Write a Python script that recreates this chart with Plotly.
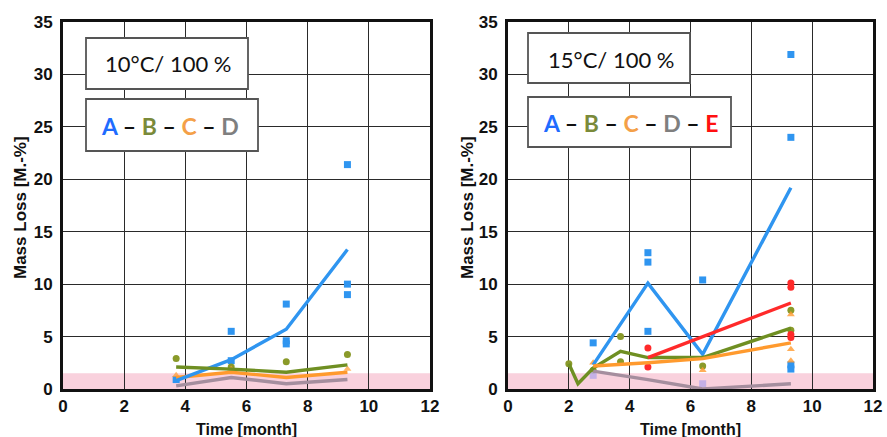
import plotly.graph_objects as go

# ---------------- data: left panel (10°C / 100 %) ----------------
L_x = [3.7, 5.5, 7.3, 9.3]
L_A_line = [0.8, 2.8, 5.7, 13.3]
L_B_line = [2.1, 1.9, 1.6, 2.3]
L_C_line = [1.1, 1.6, 1.1, 1.6]
L_D_line = [0.3, 1.1, 0.5, 0.9]

L_A_pts_x = [3.7, 5.5, 5.5, 7.3, 7.3, 7.3, 9.3, 9.3, 9.3]
L_A_pts_y = [0.9, 5.5, 2.7, 8.1, 4.6, 4.3, 21.4, 10.0, 9.0]
L_B_pts_x = [3.7, 5.5, 7.3, 9.3]
L_B_pts_y = [2.9, 2.1, 2.6, 3.3]
L_C_pts_x = [3.7, 5.5, 9.3]
L_C_pts_y = [1.3, 1.9, 1.9]

# ---------------- data: right panel (15°C / 100 %) ----------------
R_A_x = [2.8, 4.6, 6.4, 9.3]
R_A_line = [2.3, 10.1, 3.3, 19.2]
R_B_x = [2.0, 2.3, 2.8, 3.7, 4.6, 6.4, 9.3]
R_B_line = [2.4, 0.5, 2.0, 3.6, 3.0, 3.0, 5.8]
R_C_x = [2.8, 4.6, 6.4, 9.3]
R_C_line = [2.2, 2.5, 2.9, 4.4]
R_D_x = [2.8, 4.6, 6.4, 9.3]
R_D_line = [1.7, 0.9, 0.0, 0.5]
R_E_x = [4.6, 9.3]
R_E_line = [3.0, 8.2]

R_A_pts_x = [2.8, 4.6, 4.6, 4.6, 6.4, 9.3, 9.3, 9.3, 9.3]
R_A_pts_y = [4.4, 13.0, 12.1, 5.5, 10.4, 31.9, 24.0, 2.3, 1.9]
R_B_pts_x = [2.0, 2.8, 3.7, 3.7, 6.4, 9.3, 9.3]
R_B_pts_y = [2.4, 1.8, 5.0, 2.6, 2.2, 7.5, 5.6]
R_C_pts_x = [2.8, 6.4, 9.3, 9.3, 9.3]
R_C_pts_y = [2.5, 1.8, 7.1, 3.8, 2.7]
R_D_pts_x = [2.8, 6.4]
R_D_pts_y = [1.3, 0.5]
R_E_pts_x = [4.6, 4.6, 9.3, 9.3, 9.3, 9.3]
R_E_pts_y = [3.9, 2.1, 10.1, 9.7, 5.2, 4.9]

x_ticks = [0, 2, 4, 6, 8, 10, 12]
y_ticks = [0, 5, 10, 15, 20, 25, 30, 35]
band_limit = 1.5
labels = ["10°C/ 100 %", "15°C/ 100 %"]
x_title = "Time [month]"
y_title = "Mass Loss [M.-%]"

# ---------------- styles ----------------
C_A = "#2f95f0"
C_B = "#6f8f22"
C_C = "#ff9a2e"
C_D = "#a58e9e"
C_E = "#ff2a2a"

fig = go.Figure()


def add_line(x, y, color, xa, ya, width=3.4):
    fig.add_trace(go.Scatter(x=x, y=y, mode="lines", line=dict(color=color, width=width),
                             xaxis=xa, yaxis=ya, showlegend=False, hoverinfo="skip"))


def add_pts(x, y, color, symbol, xa, ya, size=7, opacity=1.0):
    fig.add_trace(go.Scatter(x=x, y=y, mode="markers",
                             marker=dict(color=color, symbol=symbol, size=size, opacity=opacity),
                             xaxis=xa, yaxis=ya, showlegend=False, hoverinfo="skip"))


# left panel
add_pts(L_A_pts_x, L_A_pts_y, C_A, "square", "x", "y")
add_pts(L_B_pts_x, L_B_pts_y, "#8a9a2a", "circle", "x", "y")
add_pts(L_C_pts_x, L_C_pts_y, C_C, "triangle-up", "x", "y", opacity=0.7)
add_line(L_x, L_D_line, C_D, "x", "y")
add_line(L_x, L_C_line, C_C, "x", "y")
add_line(L_x, L_A_line, C_A, "x", "y")
add_line(L_x, L_B_line, C_B, "x", "y")

# right panel
add_pts(R_A_pts_x, R_A_pts_y, C_A, "square", "x2", "y2")
add_pts(R_B_pts_x, R_B_pts_y, "#8a9a2a", "circle", "x2", "y2")
add_pts(R_C_pts_x, R_C_pts_y, C_C, "triangle-up", "x2", "y2", opacity=0.8)
add_pts(R_D_pts_x, R_D_pts_y, "#b8a8e8", "square", "x2", "y2", opacity=0.8)
add_pts(R_E_pts_x, R_E_pts_y, C_E, "circle", "x2", "y2")
add_line(R_D_x, R_D_line, C_D, "x2", "y2")
add_line(R_A_x, R_A_line, C_A, "x2", "y2")
add_line(R_B_x, R_B_line, C_B, "x2", "y2")
add_line(R_C_x, R_C_line, C_C, "x2", "y2")
add_line(R_E_x, R_E_line, C_E, "x2", "y2")

FONT = "Liberation Sans, Arial"
tick_font = dict(family=FONT, size=17, color="#111")


def xaxis(domain, anchor):
    return dict(domain=domain, anchor=anchor, range=[0, 12], tickvals=x_ticks,
                ticktext=[f"<b>{v}</b>" for v in x_ticks], tickfont=tick_font,
                showgrid=True, gridcolor="#2a2a2a", gridwidth=1.2, zeroline=False,
                showline=True, linecolor="#111", linewidth=3, mirror=True,
                ticks="", ticklabelstandoff=0, automargin=False)


def yaxis(domain, anchor):
    return dict(domain=domain, anchor=anchor, range=[0, 35], tickvals=y_ticks,
                ticktext=[f"<b>{v}</b>" for v in y_ticks], tickfont=tick_font,
                showgrid=True, gridcolor="#2a2a2a", gridwidth=1.2, zeroline=False,
                showline=True, linecolor="#111", linewidth=3, mirror=True,
                ticks="", ticklabelstandoff=4, automargin=False)


W, H = 887, 437
ydom = [48 / H, 415 / H]
fig.update_layout(
    width=W, height=H, margin=dict(l=0, r=0, t=0, b=0, autoexpand=False),
    paper_bgcolor="white", plot_bgcolor="white",
    xaxis=xaxis([63 / W, 430 / W], "y"),
    yaxis=yaxis(ydom, "x"),
    xaxis2=xaxis([508 / W, 873 / W], "y2"),
    yaxis2=yaxis(ydom, "x2"),
)

# pink band
for xr, yr in [("x", "y"), ("x2", "y2")]:
    fig.add_shape(type="rect", xref=xr, yref=yr, x0=0, x1=12, y0=0, y1=band_limit,
                  fillcolor="rgba(246,190,206,0.7)", line=dict(width=0), layer="below")


def px_box(x0, y0, x1, y1):
    fig.add_shape(type="rect", xref="paper", yref="paper",
                  x0=x0 / W, x1=x1 / W, y0=1 - y1 / H, y1=1 - y0 / H,
                  fillcolor="white", line=dict(color="#555", width=1.8), layer="above")


def px_text(x, y, text, size, family="Lato, Open Sans", angle=0):
    fig.add_annotation(xref="paper", yref="paper", x=x / W, y=1 - y / H, text=text,
                       showarrow=False, xanchor="center", yanchor="middle", textangle=angle,
                       font=dict(family=family, size=size, color="#111"))


def letter(ch, col):
    return f"<span style='color:{col}'><b>{ch}</b></span>"


dash = "<b> – </b>"

# axis titles
px_text(246, 429, f"<b>{x_title}</b>", 16, FONT)
px_text(690, 429, f"<b>{x_title}</b>", 16, FONT)
px_text(20, 208, f"<b>{y_title}</b>", 17, FONT, -90)
px_text(467, 208, f"<b>{y_title}</b>", 17, FONT, -90)

# left boxes
px_box(86, 38, 248, 89)
px_text(168, 64, labels[0], 22)
px_box(86, 99, 258, 151)
px_text(170, 126, dash.join([letter("A", "#1f6cff"), letter("B", "#7a8a3a"),
                             letter("C", "#f4a048"), letter("D", "#7f7f7f")]), 23)

# right boxes
px_box(528, 33, 690, 83)
px_text(611, 59, labels[1], 22)
px_box(528, 97, 731, 147)
px_text(630, 123, dash.join([letter("A", "#1f6cff"), letter("B", "#7a8a3a"),
                             letter("C", "#f4a048"), letter("D", "#7f7f7f"), letter("E", "#ff1010")]), 23)

fig.write_html("out.html", config={"displayModeBar": False},
               post_script="document.body.style.margin='0';")
